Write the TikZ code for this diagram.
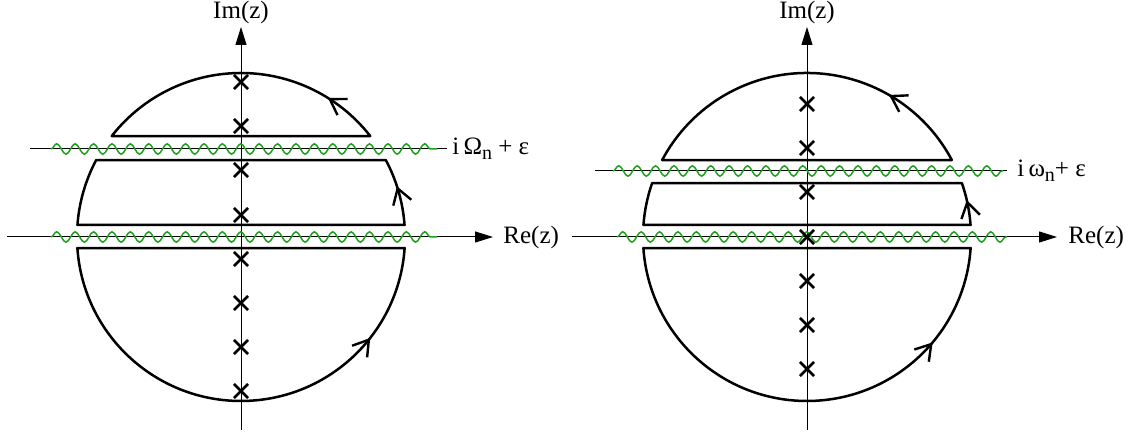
\documentclass[tikz,border=0pt]{standalone}
\usepackage{fontspec}
\setmainfont{Liberation Serif}
\usepackage{tikz}
\usetikzlibrary{
    arrows.meta,
    positioning,
    shapes.misc,
    decorations.pathmorphing,
    decorations.markings
}
\usepackage{xcolor}
\definecolor{cutgreen}{RGB}{30,160,30}

\begin{document}
\begin{tikzpicture}[
        x=0.5pt, y=0.5pt,
        axis/.style={
            line width=0.5pt,
            -{Triangle[length=9pt,width=5.5pt]}
        },
        guide/.style={
            line width=0.5pt
        },
        cut/.style={
            cutgreen,
            line width=0.75pt,
            decorate,
            decoration={snake, segment length=9.2pt, amplitude=2.6pt}
        },
        contour/.style={
            line width=1.25pt,
            line join=round
        },
        flow/.style={
            line width=1.2pt,
            postaction={decorate},
            decoration={markings,
                mark=at position 0.5 with {\arrow{Straight Barb[length=7.5pt,width=9.5pt]}}}
        },
        pole/.style={
            cross out, draw,
            line width=1.3pt,
            minimum size=5.8pt,
            inner sep=0pt
        },
        lbl/.style={
            font=\fontsize{12.5}{14}\selectfont,
            inner sep=0pt
        }
    ]
    \useasboundingbox (0,0) rectangle (1134,438);

    % left plane
    \begin{scope}[shift={(241,201)}]
        \coordinate (L-re-start) at (-234,0);
        \coordinate (L-re-end) at (252,0);
        \coordinate (L-im-start) at (0,-193);
        \coordinate (L-im-end) at (0,210);
        \coordinate (L-cut-start) at (-211,88);
        \node[lbl, anchor=west] (L-re) at (262,0) {Re(z)};
        \node[lbl] (L-im) at (0,225) {Im(z)};
        \node[lbl, anchor=west] (L-cut) at (211,88)
            {i\,Ω\raisebox{-0.45ex}{\fontsize{10}{12}\selectfont n} + ε};

        \draw[axis] (L-re-start) -- (L-re-end);
        \draw[axis] (L-im-start) -- (L-im-end);
        \draw[guide] (L-cut-start) -- ([xshift=-2.5pt]L-cut.west |- L-cut-start);

        \draw[cut] (-190,88) -- (196,88);
        \draw[cut] (-190,0) -- (196,0);

        \node[pole] (L-p1) at (0,155) {};
        \node[pole] (L-p2) at (0,111) {};
        \node[pole] (L-p3) at (0,67) {};
        \node[pole] (L-p4) at (0,22) {};
        \node[pole] (L-p5) at (0,-22) {};
        \node[pole] (L-p6) at (0,-66) {};
        \node[pole] (L-p7) at (0,-110) {};
        \node[pole] (L-p8) at (0,-154) {};

        \draw[contour] (38:164) arc[start angle=38, end angle=142, radius=164] -- cycle;
        \draw[contour] (4.2:164) arc[start angle=4.2, end angle=28, radius=164]
            -- (152:164) arc[start angle=152, end angle=175.8, radius=164] -- cycle;
        \draw[contour] (-3.85:164) -- (183.85:164)
            arc[start angle=183.85, end angle=356.15, radius=164] -- cycle;

        \path[flow] (50:164) arc[start angle=50, end angle=66, radius=164];
        \path[flow] (12:164) arc[start angle=12, end angle=24, radius=164];
        \path[flow] (-46:164) arc[start angle=-46, end angle=-30, radius=164];
    \end{scope}

    % right plane
    \begin{scope}[shift={(807,201)}]
        \coordinate (R-re-start) at (-235,0);
        \coordinate (R-re-end) at (250,0);
        \coordinate (R-im-start) at (0,-193);
        \coordinate (R-im-end) at (0,210);
        \coordinate (R-cut-start) at (-212,66);
        \node[lbl, anchor=west] (R-re) at (261,0) {Re(z)};
        \node[lbl] (R-im) at (0,225) {Im(z)};
        \node[lbl, anchor=west] (R-cut) at (210,66)
            {i\,ω\raisebox{-0.45ex}{\fontsize{10}{12}\selectfont n}+ ε};

        \draw[axis] (R-re-start) -- (R-re-end);
        \draw[axis] (R-im-start) -- (R-im-end);
        \draw[guide] (R-cut-start) -- ([xshift=-5pt]R-cut.west |- R-cut-start);

        \draw[cut] (-194,66) -- (196,66);
        \draw[cut] (-190,0) -- (200,0);

        \node[pole] (R-p1) at (0,133) {};
        \node[pole] (R-p2) at (0,89) {};
        \node[pole] (R-p3) at (0,45) {};
        \node[pole] (R-p4) at (0,0) {};
        \node[pole] (R-p5) at (0,-44) {};
        \node[pole] (R-p6) at (0,-88) {};
        \node[pole] (R-p7) at (0,-132) {};

        \draw[contour] (28:164) arc[start angle=28, end angle=152, radius=164] -- cycle;
        \draw[contour] (4.2:164) arc[start angle=4.2, end angle=19.2, radius=164]
            -- (160.8:164) arc[start angle=160.8, end angle=175.8, radius=164] -- cycle;
        \draw[contour] (-3.85:164) -- (183.85:164)
            arc[start angle=183.85, end angle=356.15, radius=164] -- cycle;

        \path[flow] (52:164) arc[start angle=52, end angle=68, radius=164];
        \path[flow] (8:164) arc[start angle=8, end angle=18, radius=164];
        \path[flow] (-48:164) arc[start angle=-48, end angle=-32, radius=164];
    \end{scope}
\end{tikzpicture}
\end{document}
